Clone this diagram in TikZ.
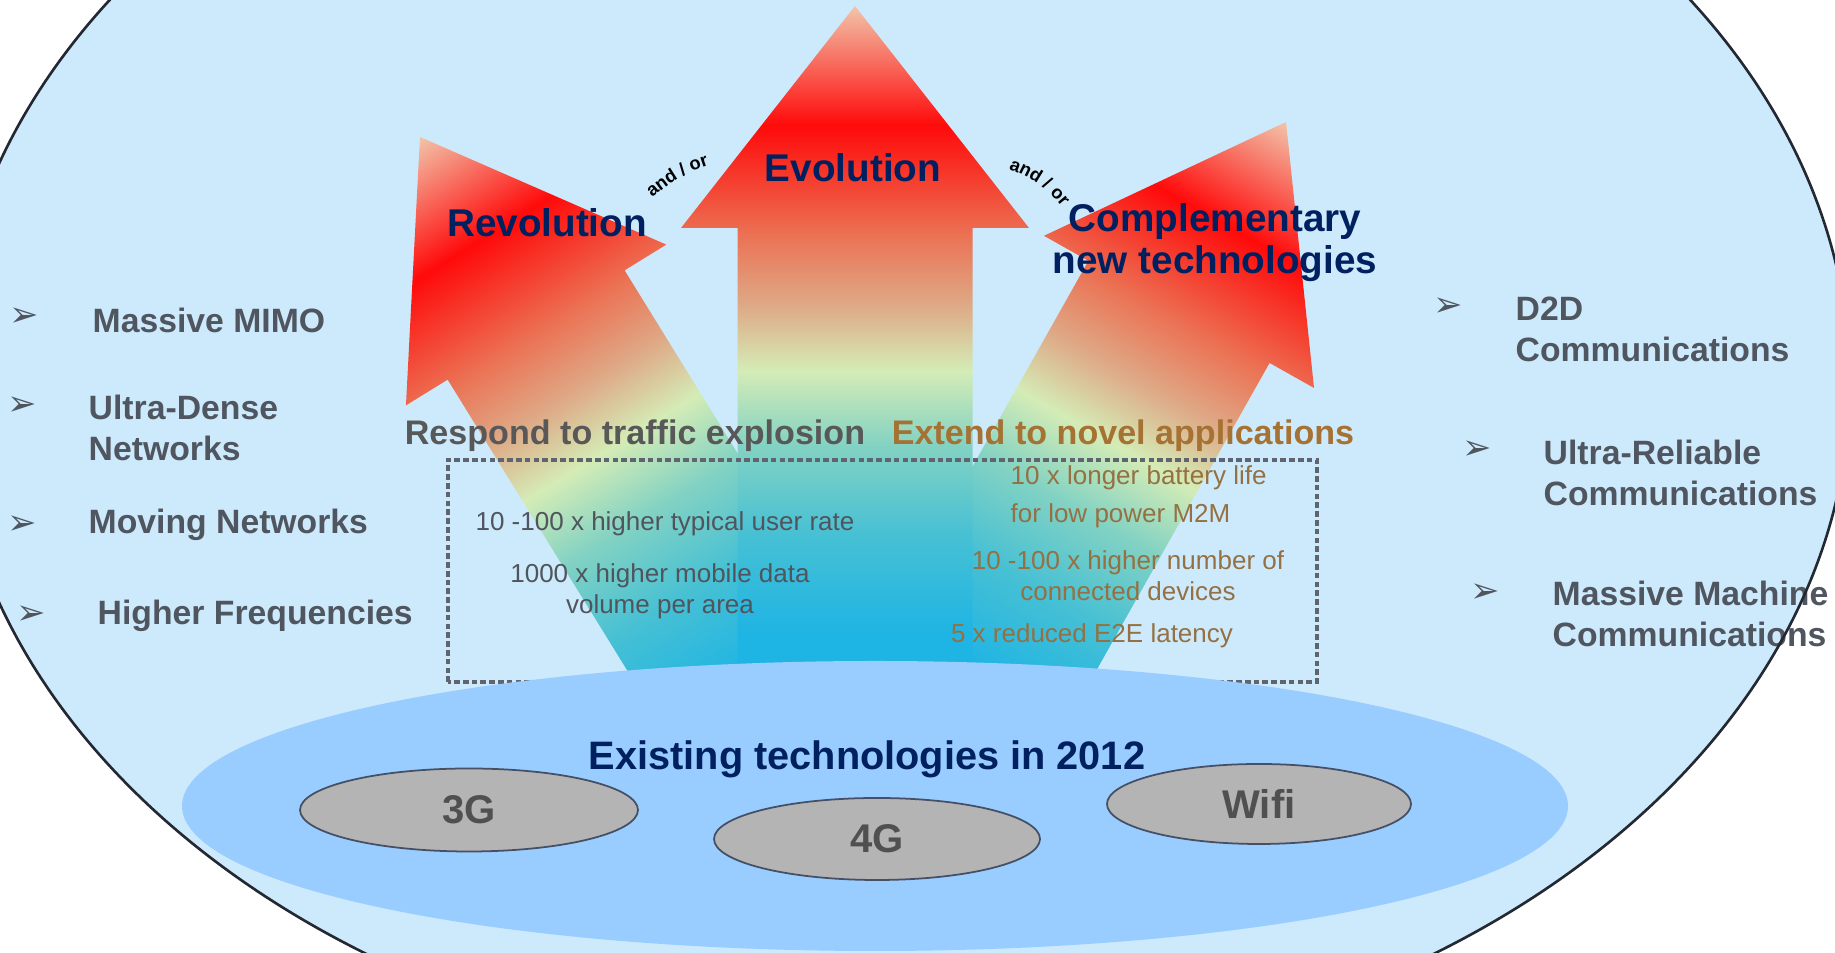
\documentclass[tikz,border=0pt]{standalone}
\usepackage{fontspec}
\setmainfont{Liberation Sans}
\newfontfamily\dingfont{DejaVu Sans}
\usepackage{tikz}
\usetikzlibrary{shapes.geometric}
\usetikzlibrary{decorations.text}

% colours
\definecolor{skyfill}{RGB}{205,234,252}
\definecolor{basefill}{RGB}{153,204,255}
\definecolor{techgray}{RGB}{180,180,180}
\definecolor{ovalline}{RGB}{70,80,100}
\definecolor{techtext}{RGB}{80,80,80}
\definecolor{rimline}{RGB}{35,40,50}
\definecolor{navy}{RGB}{0,32,96}
\definecolor{itemgray}{RGB}{80,86,96}
\definecolor{headgray}{RGB}{88,88,88}
\definecolor{headbrown}{RGB}{166,114,52}
\definecolor{boxtext}{RGB}{80,84,92}
\definecolor{boxbrown}{RGB}{148,112,66}
\definecolor{boxline}{RGB}{95,100,110}
% arrow gradient, foot to tip
\definecolor{gcyan}{RGB}{30,180,228}
\definecolor{gteal}{RGB}{70,192,212}
\definecolor{gsea}{RGB}{130,210,195}
\definecolor{gpale}{RGB}{212,236,182}
\definecolor{gtan}{RGB}{222,170,135}
\definecolor{gsalmon}{RGB}{235,115,85}
\definecolor{gred}{RGB}{255,10,10}
\definecolor{gpeach}{RGB}{242,196,170}

\pgfdeclareverticalshading{arrowfade}{100bp}{%
  color(0bp)=(gcyan); color(29.6bp)=(gcyan); color(36.8bp)=(gteal);
  color(43.3bp)=(gsea); color(48.7bp)=(gpale); color(53.4bp)=(gtan);
  color(58.4bp)=(gsalmon); color(66.4bp)=(gred); color(75bp)=(gpeach);
  color(100bp)=(gpeach)}

\begin{document}
\begin{tikzpicture}[
    listitem/.style={anchor=west, align=left, inner sep=0pt, text=itemgray,
      font=\bfseries\fontsize{9.6}{11.7}\selectfont},
    listmark/.style={inner sep=0pt, text=itemgray, font=\dingfont\fontsize{10}{10}\selectfont},
    arrowlabel/.style={inner sep=0pt, align=center, text=navy,
      font=\bfseries\fontsize{11}{11.9}\selectfont},
    goalhead/.style={anchor=base, inner sep=0pt, font=\bfseries\fontsize{9.7}{11}\selectfont},
    goaltext/.style={inner sep=0pt, align=center, font=\fontsize{7.4}{8.9}\selectfont},
    techoval/.style={ellipse, draw=ovalline, line width=0.5pt, fill=techgray, inner sep=0pt,
      text=techtext, font=\bfseries\fontsize{11.4}{12}\selectfont},
    andor/.style={decorate, decoration={text along path, text align=center,
      text={|\bfseries\fontsize{5.2}{6}\selectfont|and / or}}}
  ]
  \useasboundingbox (0,0) rectangle (18.35,9.53);
  \clip (0,0) rectangle (18.35,9.53);
  \fill[white] (0,0) rectangle (18.35,9.53);

  % Background
  \fill[skyfill] (9.00,5.70) ellipse [x radius=9.5, y radius=6.9];

  % Arrows (tip at the origin of each scope)
  \begin{scope}[transform canvas={shift={(4.20,8.16)}, rotate=31.7}]
    \shade[shading=arrowfade] (0,0) -- (1.53,-2.21) -- (1.04,-2.21) -- (1.04,-6.94)
      -- (-1.04,-6.94) -- (-1.04,-2.21) -- (-1.53,-2.21) -- cycle;
  \end{scope}
  \begin{scope}[transform canvas={shift={(12.86,8.31)}, rotate=-29.4}]
    \shade[shading=arrowfade] (0,0) -- (1.55,-2.18) -- (1.04,-2.18) -- (1.04,-6.94)
      -- (-1.04,-6.94) -- (-1.04,-2.18) -- (-1.55,-2.18) -- cycle;
  \end{scope}
  \begin{scope}[transform canvas={shift={(8.55,9.47)}}]
    \shade[shading=arrowfade] (0,0) -- (1.74,-2.22) -- (1.175,-2.22) -- (1.175,-6.94)
      -- (-1.175,-6.94) -- (-1.175,-2.22) -- (-1.74,-2.22) -- cycle;
  \end{scope}

  % Targets box
  \draw[boxline, line width=0.9pt, dash pattern=on 1.6pt off 0.9pt] (4.48,2.71) rectangle (13.17,4.93);

  % Existing technologies
  \fill[basefill] (8.75,1.47) ellipse [x radius=6.93, y radius=1.45];
  \node[techoval, minimum width=3.38cm, minimum height=0.83cm] (g3) at (4.69,1.43) {3G};
  \node[techoval, minimum width=3.26cm, minimum height=0.82cm] (g4) at (8.77,1.14) {4G};
  \node[techoval, minimum width=3.04cm, minimum height=0.80cm] (wifi) at (12.59,1.49) {Wifi};
  \node[anchor=base, inner sep=0pt, text=navy, font=\bfseries\fontsize{11.3}{12}\selectfont] (exist) at (8.67,1.83) {Existing technologies in 2012};

  % Arrow labels
  \node[arrowlabel] (revo) at (5.47,7.30) {Revolution};
  \node[arrowlabel] (evo) at (8.53,7.85) {Evolution};
  \node[arrowlabel] (compl) at (12.15,7.10) {Complementary\\new technologies};
  \path[andor] (6.39,7.41) arc[start angle=140, end angle=100, radius=1.5];
  \path[andor] (9.92,7.88) arc[start angle=80, end angle=30, radius=1.15];

  % Goals
  \node[goalhead, text=headgray] (traffic) at (6.35,5.08) {Respond to traffic explosion};
  \node[goalhead, text=headbrown] (novel) at (11.23,5.08) {Extend to novel applications};
  \node[goaltext, anchor=base, text=boxtext] (rate) at (6.65,4.22) {10 -100 x higher typical user rate};
  \node[goaltext, text=boxtext] (volume) at (6.60,3.62) {1000 x higher mobile data\\volume per area};
  \node[goaltext, anchor=base west, text=boxbrown] (battery) at (10.10,4.68) {10 x longer battery life};
  \node[goaltext, anchor=base west, text=boxbrown] (lowpower) at (10.10,4.30) {for low power M2M};
  \node[goaltext, text=boxbrown] (devices) at (11.28,3.77) {10 -100 x higher number of\\connected devices};
  \node[goaltext, anchor=base, text=boxbrown] (latency) at (10.92,3.10) {5 x reduced E2E latency};

  % Left list
  \node[listmark] (m1) at (0.24,6.36) {➢};
  \node[listitem] (mimo) at (0.92,6.33) {Massive MIMO};
  \node[listmark] (m2) at (0.22,5.47) {➢};
  \node[listitem] (dense) at (0.88,5.25) {Ultra-Dense\\Networks};
  \node[listmark] (m3) at (0.22,4.28) {➢};
  \node[listitem] (moving) at (0.88,4.28) {Moving Networks};
  \node[listmark] (m4) at (0.31,3.38) {➢};
  \node[listitem] (freq) at (0.97,3.37) {Higher Frequencies};

  % Right list
  \node[listmark] (r1) at (14.48,6.46) {➢};
  \node[listitem] (d2d) at (15.15,6.24) {D2D\\Communications};
  \node[listmark] (r2) at (14.77,5.03) {➢};
  \node[listitem] (urc) at (15.43,4.80) {Ultra-Reliable\\Communications};
  \node[listmark] (r3) at (14.85,3.60) {➢};
  \node[listitem] (mmc) at (15.52,3.39) {Massive Machine\\Communications};

  % Rim
  \draw[rimline, line width=0.75pt] (9.00,5.70) ellipse [x radius=9.5, y radius=6.9];
\end{tikzpicture}
\end{document}
